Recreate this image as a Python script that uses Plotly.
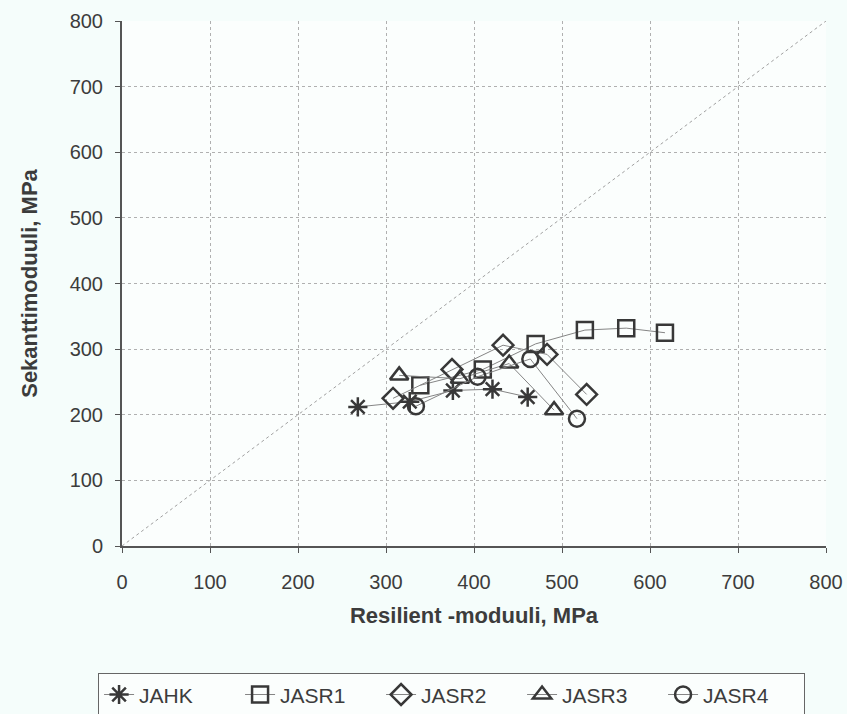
import plotly.graph_objects as go

# Resilient modulus (x) and secant modulus (y), MPa, per test series
jahk_x = [268, 327, 376, 421, 461]
jahk_y = [212, 220, 237, 239, 227]

jasr1_x = [339, 410, 470, 526, 573, 617]
jasr1_y = [245, 269, 308, 329, 332, 325]

jasr2_x = [308, 375, 433, 483, 528]
jasr2_y = [225, 269, 306, 292, 231]

jasr3_x = [315, 384, 440, 491]
jasr3_y = [260, 255, 278, 207]

jasr4_x = [334, 404, 464, 517]
jasr4_y = [213, 258, 285, 194]

ref_line = [0, 800]

series = [
    ("JAHK", jahk_x, jahk_y, "asterisk-open"),
    ("JASR1", jasr1_x, jasr1_y, "square-open"),
    ("JASR2", jasr2_x, jasr2_y, "diamond-open"),
    ("JASR3", jasr3_x, jasr3_y, "triangle-up-open"),
    ("JASR4", jasr4_x, jasr4_y, "circle-open"),
]

fig = go.Figure()

# 1:1 reference line
fig.add_trace(go.Scatter(
    x=ref_line, y=ref_line, mode="lines",
    line=dict(color="#a0a0a0", width=1, dash="dot"),
    showlegend=False, hoverinfo="skip",
))

for name, xs, ys, sym in series:
    fig.add_trace(go.Scatter(
        x=xs, y=ys, mode="lines+markers", name=name,
        line=dict(color="#858585", width=1),
        marker=dict(symbol=sym, size=16, color="#383838",
                    line=dict(color="#383838", width=2.5)),
    ))

FONT = "Liberation Sans, Arial"

axis_common = dict(
    range=[0, 800], dtick=100,
    showgrid=True, gridcolor="#b0b0b0", griddash="dot", gridwidth=1,
    showline=True, linecolor="#555555", linewidth=2,
    ticks="outside", ticklen=5, tickcolor="#555555",
    zeroline=False,
    tickfont=dict(family=FONT, size=20, color="#3c3c3c"),
)

fig.update_layout(
    width=847, height=714,
    margin=dict(l=122, r=21, t=21, b=168, autoexpand=False),
    paper_bgcolor="#f5fdfb",
    plot_bgcolor="#fbfefd",
    font=dict(family=FONT, color="#3c3c3c"),
    xaxis=dict(**axis_common, ticklabelstandoff=12,
               title=dict(text="<b>Resilient -moduuli, MPa</b>",
                          font=dict(size=22, color="#3c3c3c"), standoff=16)),
    yaxis=dict(**axis_common, ticklabelstandoff=8,
               title=dict(text="<b>Sekanttimoduuli, MPa</b>",
                          font=dict(size=22, color="#3c3c3c"), standoff=26)),
    legend=dict(
        orientation="h", x=-0.034, y=-0.2426, xanchor="left", yanchor="top",
        bordercolor="#666666", borderwidth=1, bgcolor="#fbfefd",
        font=dict(family=FONT, size=21, color="#3c3c3c"),
        entrywidth=96, entrywidthmode="pixels",
    ),
)

fig.write_html("out.html")
